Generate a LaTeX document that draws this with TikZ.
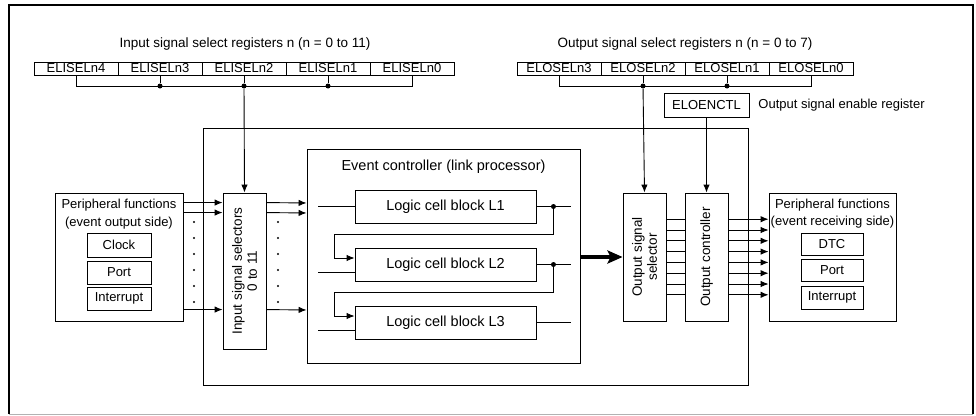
\documentclass[tikz,border=0pt]{standalone}
\usepackage{fontspec}
\setmainfont{Liberation Sans}
\usetikzlibrary{arrows.meta, positioning, calc}

\begin{document}
\begin{tikzpicture}[x=1pt, y=-1pt,
  line width=0.9pt,
  >={Latex[length=8pt,width=6.5pt]},
  regbox/.style={draw, minimum width=84pt, minimum height=13pt, inner sep=0pt, font=\fontsize{13pt}{14pt}\selectfont},
  subbox/.style={draw, minimum width=64pt, minimum height=23pt, inner sep=0pt, font=\fontsize{13pt}{14pt}\selectfont},
  selbox/.style={draw, minimum width=43pt, inner sep=0pt},
  lcbox/.style={draw, minimum width=181pt, minimum height=33pt, inner sep=0pt, font=\fontsize{14.5pt}{16pt}\selectfont},
  lbl/.style={inner sep=0pt, font=\fontsize{13pt}{14pt}\selectfont},
  jdot/.style={circle, fill, inner sep=0pt, minimum size=5pt}
]
  \useasboundingbox (0,0) rectangle (976,415);
  \draw[line width=2.4pt] (9,414) -- (9,5) -- (973,5) -- (973,414);
  \draw[black!30] (9,414) -- (973,414);

  % input select registers
  \node[lbl, font=\fontsize{13.5pt}{15pt}\selectfont] (ititle) at (245,44) {Input signal select registers n (n = 0 to 11)};
  \node[regbox] (isel4) at (76,68.5) {ELISELn4};
  \node[regbox] (isel3) at (160,68.5) {ELISELn3};
  \node[regbox] (isel2) at (244,68.5) {ELISELn2};
  \node[regbox] (isel1) at (328,68.5) {ELISELn1};
  \node[regbox] (isel0) at (412,68.5) {ELISELn0};
  \draw (isel4.south) -- ++(0,11) -| (isel0.south);
  \node[jdot] (ij3) at (isel3.south |- 0,86) {};
  \node[jdot] (ij2) at (isel2.south |- 0,86) {};
  \node[jdot] (ij1) at (isel1.south |- 0,86) {};
  \draw (isel3.south) -- (ij3);
  \draw (isel2.south) -- (ij2);
  \draw (isel1.south) -- (ij1);

  % output select registers
  \node[lbl, font=\fontsize{13.5pt}{15pt}\selectfont] (otitle) at (685,44) {Output signal select registers n (n = 0 to 7)};
  \node[regbox] (osel3) at (559,68.5) {ELOSELn3};
  \node[regbox] (osel2) at (643,68.5) {ELOSELn2};
  \node[regbox] (osel1) at (727,68.5) {ELOSELn1};
  \node[regbox] (osel0) at (811,68.5) {ELOSELn0};
  \draw (osel3.south) -- ++(0,11) -| (osel0.south);
  \node[jdot] (oj2) at (osel2.south |- 0,86) {};
  \node[jdot] (oj1) at (osel1.south |- 0,86) {};
  \draw (osel2.south) -- (oj2);
  \draw (osel1.south) -- (oj1);

  \node[regbox, minimum width=85pt, minimum height=24pt] (oenctl) at (706.5,105) {ELOENCTL};
  \node[lbl, anchor=west] (oenlbl) at (758,105) {Output signal enable register};

  % module
  \node[draw, minimum width=545pt, minimum height=257pt] (elc) at (475.5,256.5) {};

  % peripheral functions, event output side
  \node[draw, minimum width=128pt, minimum height=128pt] (lpf) at (119,257) {};
  \node[lbl] (lpft) at (119,205) {Peripheral functions};
  \node[lbl] (lpfs) at (119,223) {(event output side)};
  \node[subbox, minimum height=24pt] (lclk) at (119,245) {Clock};
  \node[subbox] (lport) at (119,272.5) {Port};
  \node[subbox] (lint) at (119,298.5) {Interrupt};

  \node[selbox, minimum height=156pt] (insel) at (244.5,271) {};
  \node[lbl, rotate=90, align=center, font=\fontsize{13.5pt}{15pt}\selectfont] at (insel) {Input signal selectors\\0 to 11};
  \draw[->] (ij2) -- (insel.north);

  \draw[->] ([yshift=-10pt]lpf.north east) -- ([yshift=-10pt]insel.north west);
  \draw[->] ([yshift=-20pt]lpf.north east) -- ([yshift=-20pt]insel.north west);
  \draw[->] ([yshift=-117pt]lpf.north east) -- ([yshift=-117pt]insel.north west);
  \foreach \y in {222,238,254,270,286,302} {
    \fill (194,\y) circle (1.2pt);
    \fill (278,\y) circle (1.2pt);
  }

  % event controller
  \node[draw, minimum width=273pt, minimum height=214pt] (ec) at (443.5,256) {};
  \node[lbl, font=\fontsize{14.5pt}{16pt}\selectfont] (ect) at (443.5,167) {Event controller (link processor)};
  \draw[->] ([yshift=-10pt]insel.north east) -- (ec.west |- 0,203);
  \draw[->] ([yshift=-20pt]insel.north east) -- (ec.west |- 0,213);
  \draw[->] ([yshift=-117pt]insel.north east) -- (ec.west |- 0,310);

  \node[lcbox] (lcb1) at (445.5,206.5) {Logic cell block L1};
  \node[lcbox] (lcb2) at (445.5,264.5) {Logic cell block L2};
  \node[lcbox] (lcb3) at (445.5,322.5) {Logic cell block L3};

  \draw (lcb1.west) -- ++(-37,0);
  \draw ([yshift=-7.5pt]lcb2.west) -- ++(-37,0);
  \draw ([yshift=-7.5pt]lcb3.west) -- ++(-37,0);
  \draw (lcb1.east) -- ++(35,0);
  \draw (lcb2.east) -- ++(35,0);
  \draw (lcb3.east) -- ++(35,0);
  \node[jdot] (lj1) at ([xshift=17pt]lcb1.east) {};
  \node[jdot] (lj2) at ([xshift=17pt]lcb2.east) {};
  \draw[->] (lj1.center) -- ++(0,28) -- ++(-219,0) |- ([yshift=6.5pt]lcb2.west);
  \draw[->] (lj2.center) -- ++(0,28) -- ++(-219,0) |- ([yshift=6.5pt]lcb3.west);

  % output side
  \node[selbox, minimum height=128pt] (outsel) at (644.5,257) {};
  \node[lbl, rotate=90, align=center, font=\fontsize{13.5pt}{15pt}\selectfont] at (outsel) {Output signal\\selector};
  \node[selbox, minimum height=128pt] (outctl) at (706.5,257) {};
  \node[lbl, rotate=90, font=\fontsize{13.5pt}{15pt}\selectfont] at (outctl) {Output controller};
  \draw[->] (oj2) -- (outsel.north);
  \draw[->] (oenctl.south) -- (outctl.north);
  \draw[line width=3.4pt, -{Stealth[length=15pt,width=13pt,inset=3pt]}] (ec.east |- 0,257) -- (outsel.west);

  \node[draw, minimum width=127pt, minimum height=128pt] (rpf) at (832.5,257) {};
  \node[lbl] (rpft) at (832.5,205) {Peripheral functions};
  \node[lbl] (rpfs) at (832.5,222) {(event receiving side)};
  \node[subbox, minimum width=62pt, minimum height=22pt] (rdtc) at (832,244) {DTC};
  \node[subbox, minimum width=62pt, minimum height=22pt] (rport) at (832,270) {Port};
  \node[subbox, minimum width=62pt] (rint) at (832,297.5) {Interrupt};

  \foreach \k in {0,...,7} {
    \draw ([yshift={(3.5-\k)*10.8pt}]outsel.east) -- ([yshift={(3.5-\k)*10.8pt}]outctl.west);
    \draw[->] ([yshift={(3.5-\k)*10.8pt}]outctl.east) -- ([yshift={(3.5-\k)*10.8pt}]rpf.west);
  }
\end{tikzpicture}
\end{document}
